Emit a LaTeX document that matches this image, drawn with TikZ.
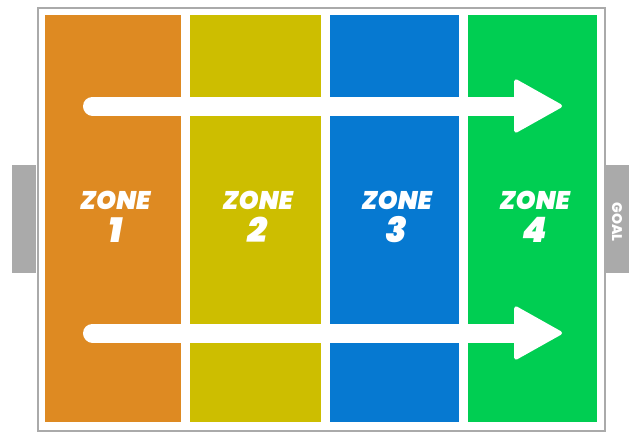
\documentclass[tikz,border=0pt]{standalone}
\usepackage{fontspec}
\newfontfamily\zfont{Poppins}[BoldItalicFont={Poppins Black Italic},BoldFont={Poppins ExtraBold}]
\usetikzlibrary{arrows.meta}
\definecolor{zorange}{HTML}{DE8A22}
\definecolor{zyellow}{HTML}{CDBE00}
\definecolor{zblue}{HTML}{0679D1}
\definecolor{zgreen}{HTML}{00CE52}
\definecolor{zgray}{HTML}{AAAAAA}
\tikzset{
  zonebox/.style={draw=none,inner sep=0pt,minimum width=#1,minimum height=407pt,anchor=north west},
  goalbox/.style={fill=zgray,draw=none,inner sep=0pt,minimum width=24pt,minimum height=108pt},
  zlabel/.style={text=white,font=\zfont\bfseries\itshape\fontsize{25.5}{25.5}\selectfont,inner sep=0pt},
  znum/.style={text=white,font=\zfont\bfseries\itshape\fontsize{35}{35}\selectfont,inner sep=0pt},
  flow/.style={draw=white,line width=19pt,line cap=round,-{Triangle[length=50pt,width=55pt,line width=4pt,round]}}
}
\begin{document}
\begin{tikzpicture}[x=1pt,y=-1pt]
\useasboundingbox (0,0) rectangle (629,431);
% goals
\node[goalbox,anchor=north west] (gl) at (12,165) {};
\node[goalbox,anchor=north west] (gr) at (605,165) {};
\node[text=white,font=\zfont\bfseries\fontsize{14}{14}\selectfont,rotate=-90,inner sep=0pt] (goal) at (617,222) {GOAL};
% field
\node[draw=zgray,line width=2pt,fill=white,anchor=north west,minimum width=567pt,minimum height=423pt,inner sep=0pt] (field) at (37,7) {};
% zones
\node[zonebox=136pt,fill=zorange] (z1) at (45,15) {};
\node[zonebox=131pt,fill=zyellow] (z2) at (190,15) {};
\node[zonebox=129pt,fill=zblue] (z3) at (330,15) {};
\node[zonebox=129pt,fill=zgreen] (z4) at (468,15) {};
% labels
\foreach \i in {1,...,4}{
  \node[zlabel] (l\i) at ([xshift=2pt,yshift=-185pt]z\i.north) {ZONE};
  \node[znum] (n\i) at ([xshift=2pt,yshift=-215pt]z\i.north) {\i};
}
% arrows
\coordinate (a1) at (92.5,106);
\coordinate (b1) at (562,106);
\coordinate (a2) at (92.5,333);
\coordinate (b2) at (562,333);
\draw[flow] (a1) -- (b1);
\draw[flow] (a2) -- (b2);
\end{tikzpicture}
\end{document}
